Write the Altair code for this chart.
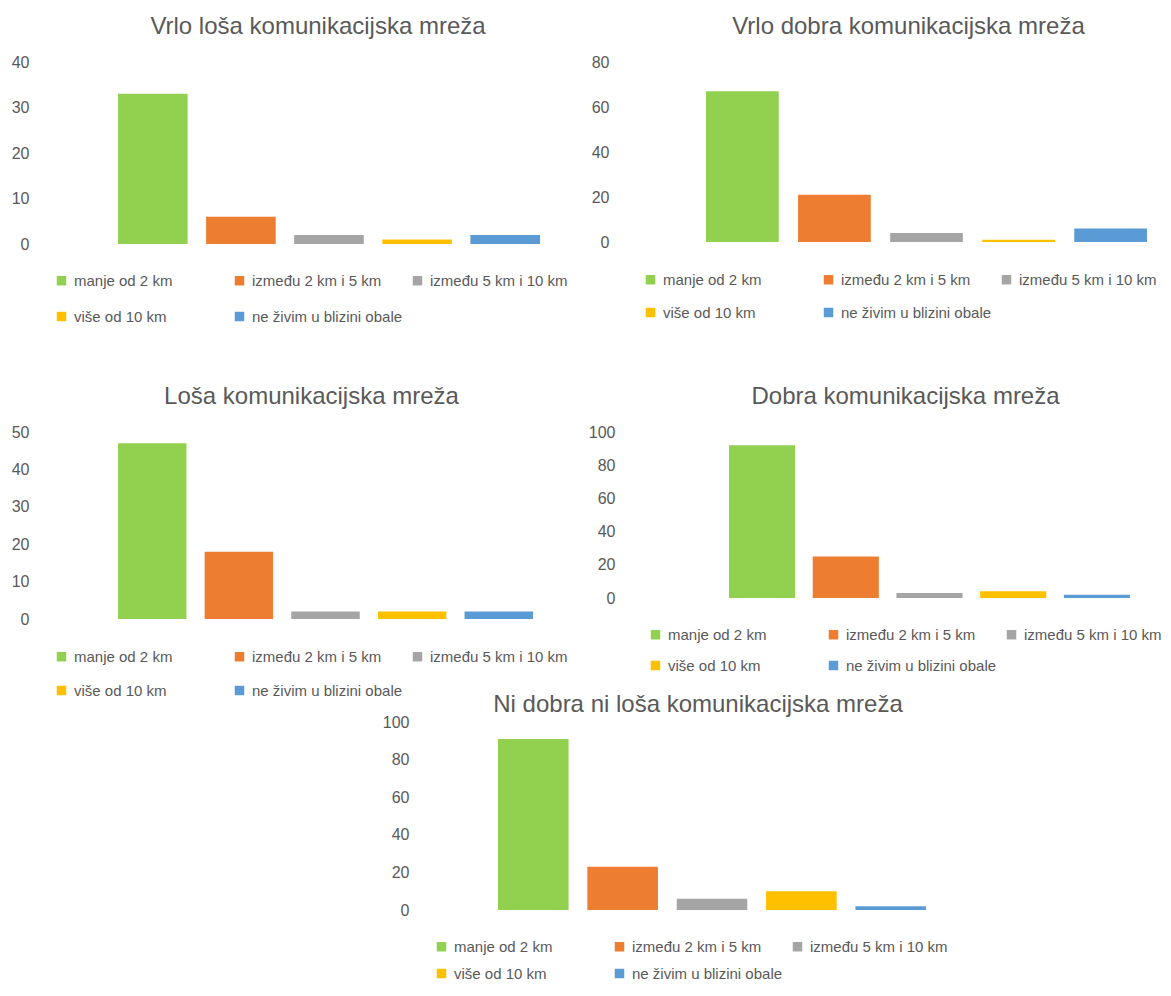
import altair as alt
import pandas as pd

FONT = "Liberation Sans"
TXT = "#595959"

categories = ["manje od 2 km", "između 2 km i 5 km", "između 5 km i 10 km",
              "više od 10 km", "ne živim u blizini obale"]
colors = ["#92D050", "#ED7D31", "#A5A5A5", "#FFC000", "#5B9BD5"]

titles = ["Vrlo loša komunikacijska mreža", "Vrlo dobra komunikacijska mreža",
          "Loša komunikacijska mreža", "Dobra komunikacijska mreža",
          "Ni dobra ni loša komunikacijska mreža"]

vrlo_losa = [33, 6, 2, 1, 2]
vrlo_dobra = [67, 21, 4, 1, 6]
losa = [47, 18, 2, 2, 2]
dobra = [92, 25, 3, 4, 2]
ni_ni = [91, 23, 6, 10, 2]

y_max = [40, 80, 50, 100, 100]
y_step = [10, 20, 10, 20, 20]


def panel(title, values, ymax, step, w, hp, H, axis_off, lx, ly, rowpad, tdx, toff):
    df = pd.DataFrame({"kat": categories, "vrijednost": values})
    return alt.Chart(df).mark_bar().encode(
        x=alt.X("kat:N", sort=categories, axis=None,
                scale=alt.Scale(paddingInner=0.21, paddingOuter=0)),
        y=alt.Y("vrijednost:Q",
                scale=alt.Scale(domain=[0, ymax], range=[hp, 0], nice=False),
                axis=alt.Axis(values=list(range(0, ymax + 1, step)), title=None,
                              domain=False, ticks=False, grid=False,
                              labelFont=FONT, labelFontSize=16, labelColor=TXT,
                              labelPadding=4, offset=axis_off)),
        color=alt.Color("kat:N", sort=categories,
                        scale=alt.Scale(domain=categories, range=colors),
                        legend=alt.Legend(title=None, orient="none", legendX=lx, legendY=ly,
                                          direction="horizontal", columns=3, gridAlign="all",
                                          symbolType="square", symbolSize=90,
                                          symbolStrokeWidth=0,
                                          labelFont=FONT, labelFontSize=15, labelColor=TXT,
                                          labelOffset=5, columnPadding=7, rowPadding=rowpad,
                                          labelLimit=400, padding=0)),
    ).properties(
        width=w, height=H,
        title=alt.TitleParams(title, font=FONT, fontSize=24, fontWeight="normal",
                              color=TXT, anchor="middle", frame="group", dx=tdx,
                              offset=toff),
    )


p1 = panel(titles[0], vrlo_losa, y_max[0], y_step[0], 422, 182, 353, 85, -64, 211, 20, -11, 15)
p2 = panel(titles[1], vrlo_dobra, y_max[1], y_step[1], 441, 180, 353, 93, -63, 210, 17, -18, 15)
p3 = panel(titles[2], losa, y_max[2], y_step[2], 415, 187, 290, 85, -64, 217, 18, -14, 15)
p4 = panel(titles[3], dobra, y_max[3], y_step[3], 401, 166, 290, 110, -81, 195, 15, -24, 15)
p5 = panel(titles[4], ni_ni, y_max[4], y_step[4], 428, 188, 256, 85, -64, 217, 11, -14, -3)

spacer = alt.Chart(pd.DataFrame({"v": [0]})).mark_point(opacity=0).encode(
    x=alt.value(0), y=alt.value(0)).properties(width=380, height=10)

row1 = alt.hconcat(p1, p2, spacing=166, bounds="flush").resolve_scale(
    color="independent").resolve_legend(color="independent")
row2 = alt.hconcat(p3, p4, spacing=196, bounds="flush").resolve_scale(
    color="independent").resolve_legend(color="independent")
row3 = alt.hconcat(spacer, p5, spacing=0, bounds="flush").resolve_scale(
    color="independent").resolve_legend(color="independent")

chart = alt.vconcat(row1, row2, row3, spacing=-30).resolve_scale(
    color="independent").resolve_legend(color="independent").properties(
    padding={"left": 3, "top": 7, "right": 0, "bottom": 0},
    background="white").configure_view(stroke=None)

chart.save("out.html", embed_options={"renderer": "svg", "actions": False})
